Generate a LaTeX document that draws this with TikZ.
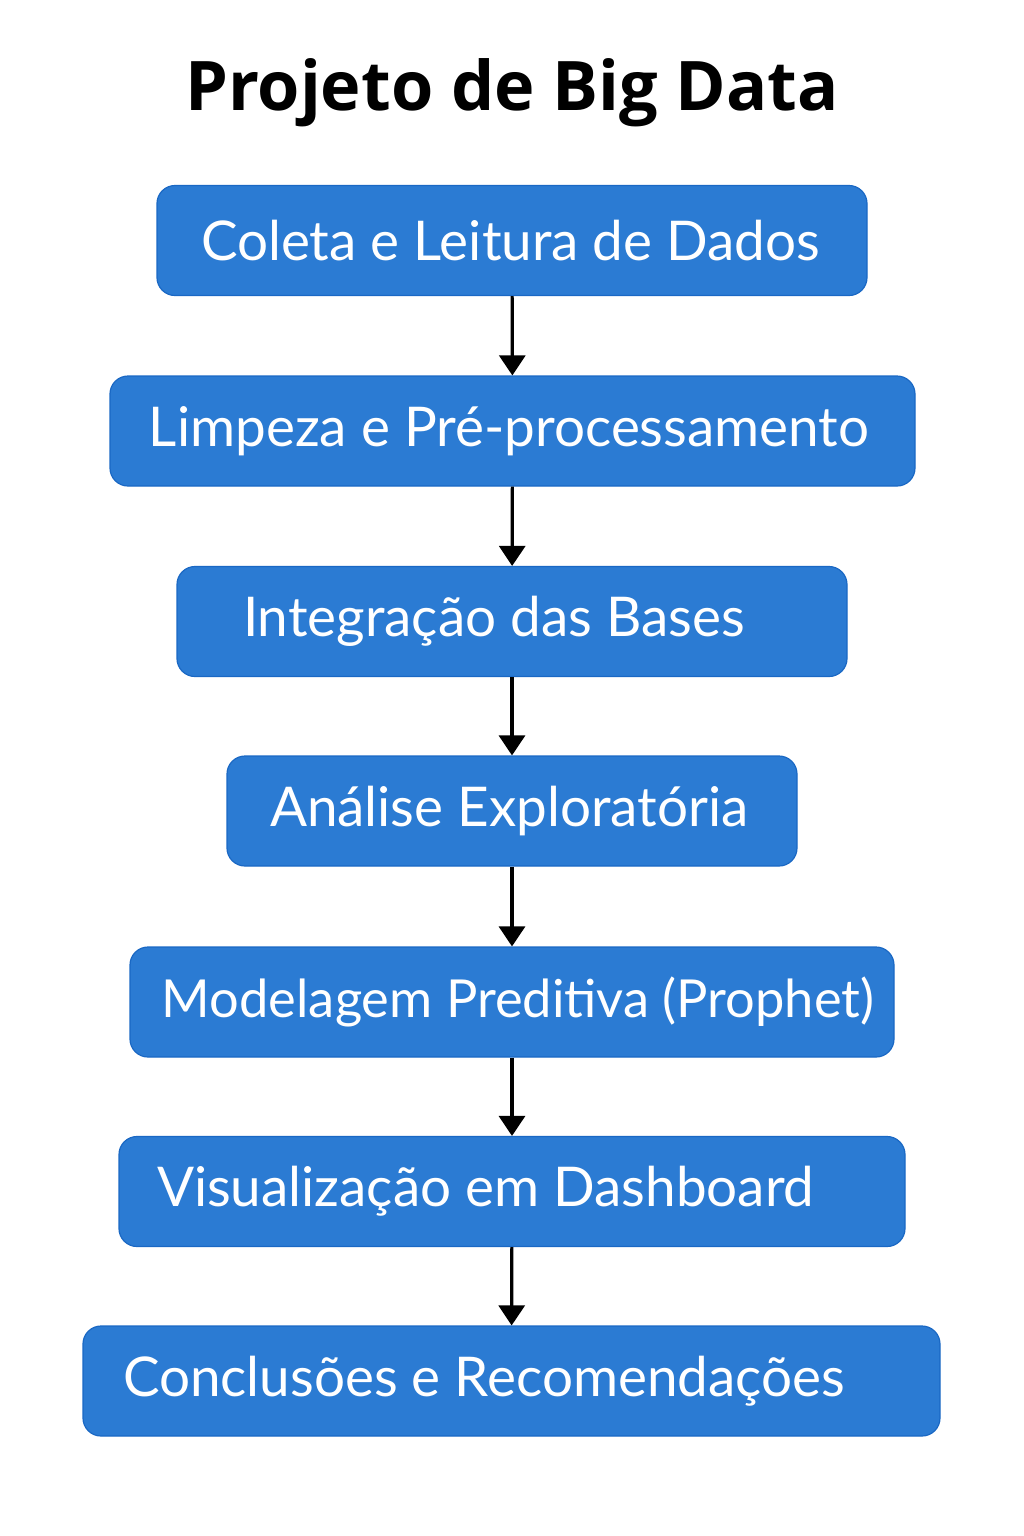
\documentclass[tikz,border=0pt]{standalone}
\usepackage{fontspec}
\setmainfont{Lato}
\newfontfamily\titlefont{Open Sans}
\usetikzlibrary{arrows.meta}
\definecolor{stagefill}{HTML}{2B7BD3}
\definecolor{stageline}{HTML}{1A68C4}

\begin{document}
\begin{tikzpicture}[x=0.25pt, y=0.25pt,
    stage/.style={draw=stageline, line width=0.3pt, fill=stagefill, rounded corners=4.5pt,
        text=white, font=\fontsize{13.7}{16}\selectfont, minimum height=27.5pt},
    flow/.style={-{Triangle[width=6.5pt,length=5pt]}, line width=0.8pt}]
    \useasboundingbox (0,0) rectangle (1024,-1536);

    \node[anchor=base, font=\titlefont\fontsize{17.1}{20}\selectfont\bfseries] (title) at (512,-110) {Projeto de Big Data};

    \node[stage, inner xsep=11pt] (coleta) at (512,-240.5) {\makebox[155.5pt][l]{Coleta e Leitura de Dados}};
    \node[stage, inner xsep=9.75pt] (limpeza) at (512.5,-431) {\makebox[181.75pt][l]{Limpeza e Pré-processamento}};
    \node[stage, inner xsep=16.5pt] (integracao) at (512,-621.5) {\makebox[134.5pt][l]{Integração das Bases}};
    \node[stage, inner xsep=10.75pt] (analise) at (512,-811) {\makebox[121pt][l]{Análise Exploratória}};
    \node[stage, inner xsep=8pt, font=\fontsize{13.1}{16}\selectfont] (modelagem) at (512,-1002) {\makebox[175pt][l]{Modelagem Preditiva (Prophet)}};
    \node[stage, inner xsep=9.5pt] (visualizacao) at (512,-1191.5) {\makebox[177.5pt][l]{Visualização em Dashboard}};
    \node[stage, inner xsep=10pt] (conclusoes) at (511.5,-1381) {\makebox[194.25pt][l]{Conclusões e Recomendações}};

    \draw[flow] (coleta) -- (limpeza);
    \draw[flow] (limpeza) -- (integracao);
    \draw[flow] (integracao) -- (analise);
    \draw[flow] (analise) -- (modelagem);
    \draw[flow] (modelagem) -- (visualizacao);
    \draw[flow] (visualizacao) -- (conclusoes);
\end{tikzpicture}
\end{document}
